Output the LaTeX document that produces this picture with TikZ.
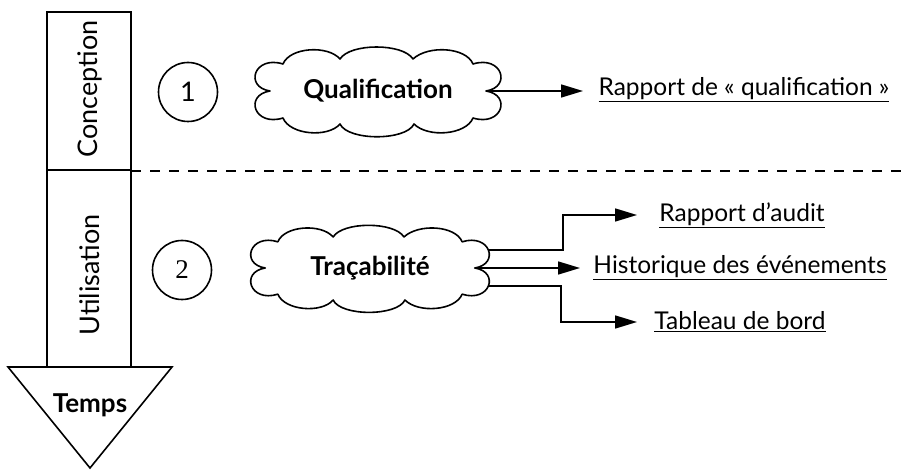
\documentclass[tikz,border=0pt]{standalone}
\usepackage{fontspec}
\setmainfont{Lato}
\newfontfamily\serifnum{Liberation Serif}
\usetikzlibrary{arrows.meta}
\pgfdeclarelayer{lines}
\pgfdeclarelayer{clouds}
\pgfsetlayers{lines,clouds,main}
\tikzset{
  line/.style={line width=1.6pt},
  cloudtext/.style={inner sep=0pt, font=\bfseries\fontsize{26}{30}\selectfont},
  cloudline/.style={draw, fill=white, line width=1.6pt, line join=round},
  numcircle/.style={circle, draw, line width=1.6pt, minimum size=59pt, inner sep=0pt, font=\fontsize{27}{30}\selectfont},
  outlabel/.style={font=\fontsize{24.5}{28}\selectfont, inner sep=0pt},
  arr/.style={line, -{Triangle[length=22pt,width=13pt]}},
  phase/.style={rotate=90, font=\fontsize{27}{31}\selectfont, inner sep=0pt},
}
\newcommand\drawcloud[2]{%
  \begin{pgfonlayer}{clouds}
  \path[cloudline, shift={(#1.center)}, #2]
    (-108,0) .. controls (-134,-4) and (-124,-36) .. (-95,-27)
    .. controls (-88,-44) and (-50,-46) .. (-38,-32)
    .. controls (-28,-48) and (25,-48) .. (35,-32)
    .. controls (50,-46) and (88,-44) .. (95,-27)
    .. controls (124,-36) and (134,-4) .. (108,0)
    .. controls (134,4) and (124,36) .. (95,27)
    .. controls (88,44) and (50,47) .. (36,33)
    .. controls (28,50) and (-30,50) .. (-38,33)
    .. controls (-50,47) and (-88,44) .. (-95,27)
    .. controls (-124,36) and (-134,4) .. (-108,0) -- cycle;
  \end{pgfonlayer}}
\begin{document}
\begin{tikzpicture}[x=1pt,y=-1pt]
\useasboundingbox (0,0) rectangle (905,470);
% phase column
\draw[line] (47,12) rectangle (131,170);
\draw[line] (47,170) rectangle (131,367);
\node[phase] (conc) at (90,89) {Conception};
\node[phase] (util) at (90,275) {Utilisation};
\draw[line] (8,367) -- (172,367) -- (90,468) -- cycle;
\node[cloudtext] (temps) at (90,405) {Temps};
\draw[line, dash pattern=on 10pt off 9pt] (131,171) -- (905,171);
% numbers
\node[numcircle] (n1) at (188,92) {1};
\node[numcircle] (n2) at (182,270) {\serifnum 2};
% clouds
\node[cloudtext] (q) at (378,91) {Qualification};
\drawcloud{q}{}
\node[cloudtext] (t) at (370,268) {Traçabilité};
\drawcloud{t}{xscale=0.97,yscale=0.97}
% outputs
\node[outlabel] (rq) at (744,90) {\underline{Rapport de « qualification »}};
\node[outlabel] (ra) at (742,215) {\underline{Rapport d’audit}};
\node[outlabel] (he) at (740,268) {\underline{Historique des événements}};
\node[outlabel] (tb) at (740,322) {\underline{Tableau de bord}};
\coordinate (qa) at (583,91);
\coordinate (aa) at (637,215);
\coordinate (ha) at (580,268);
\coordinate (ta) at (637,322);
\coordinate (ka) at (563,250);
\coordinate (kb) at (561,286);
\begin{pgfonlayer}{lines}
\draw[arr] (q.center) -- (qa);
\draw[arr] ([yshift=18pt]t.center) -- (ka) |- (aa);
\draw[arr] (t.center) -- (ha);
\draw[arr] ([yshift=-18pt]t.center) -- (kb) |- (ta);
\end{pgfonlayer}
\end{tikzpicture}
\end{document}
